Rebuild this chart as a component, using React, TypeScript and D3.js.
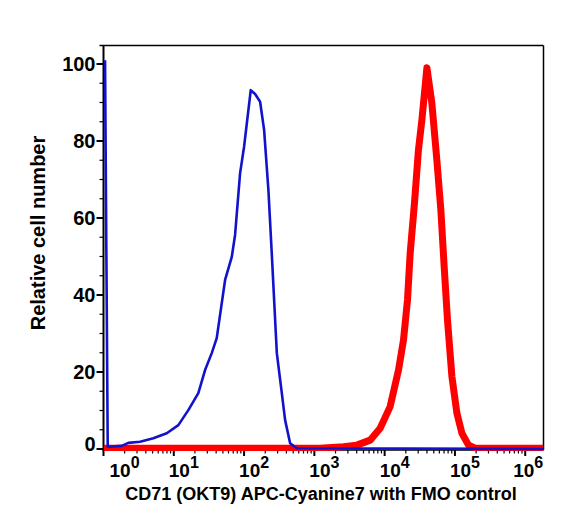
import React from 'react';
import * as d3 from 'd3';

// Histogram channels are stored as decades (log10 of the fluorescence intensity).
// FMO control (blue)
const fmoDecade = [0.022, 0.06, 0.259, 0.353, 0.52, 0.709, 0.9, 1.065, 1.207, 1.349, 1.445, 1.54, 1.611, 1.73, 1.825, 1.872, 1.943, 2.0, 2.095, 2.157, 2.228, 2.285, 2.346, 2.394, 2.466, 2.537, 2.584, 2.655, 2.75, 6.26];
const fmoCount = [101, 0.6, 0.8, 1.6, 1.9, 2.8, 4.1, 6.2, 10.1, 14.5, 20.5, 24.9, 28.8, 43.9, 49.9, 55.6, 71.6, 78.5, 93.2, 92.2, 90.2, 82.9, 67.3, 50.8, 24.9, 14.5, 7.5, 1.5, 0.2, 0];

// CD71 (OKT9) APC-Cyanine7 stained (red)
const cd71Decade = [0, 3.081, 3.413, 3.604, 3.794, 3.936, 4.078, 4.197, 4.268, 4.325, 4.363, 4.424, 4.481, 4.53, 4.601, 4.672, 4.743, 4.8, 4.847, 4.894, 4.957, 5.028, 5.099, 5.193, 5.288, 6.26];
const cd71Count = [0.2, 0.2, 0.6, 1.0, 2.3, 5.4, 11, 20.5, 28.3, 38.7, 50.8, 63.8, 77.7, 85.5, 99, 89.8, 75, 62, 47.3, 33.5, 18.8, 9.3, 4.1, 1.0, 0.2, 0.2];

const yMajorTicks = [0, 20, 40, 60, 80, 100];
const yMinorTicks = [5, 10, 15, 25, 30, 35, 45, 50, 55, 65, 70, 75, 85, 90, 95];
const xDecadeTicks = [0, 1, 2, 3, 4, 5, 6];

const xTitle = 'CD71 (OKT9) APC-Cyanine7 with FMO control';
const yTitle = 'Relative cell number';

const W = 563;
const H = 521;
const left = 103.5;
const right = 543.5;
const top = 45.5;
const bottom = 450;
const FONT = "'Liberation Sans', Arial, Helvetica, sans-serif";

export default function App() {
  const x = d3.scaleLog().domain([1, Math.pow(10, 6.26)]).range([left, right]);
  const y = d3.scaleLinear().domain([0, 100]).range([449, 64]);

  const line = d3
    .line<[number, number]>()
    .x((d) => x(Math.pow(10, d[0])))
    .y((d) => y(d[1]));

  const fmoPts = fmoDecade.map((d, i) => [d, fmoCount[i]] as [number, number]);
  const cd71Pts = cd71Decade.map((d, i) => [d, cd71Count[i]] as [number, number]);

  const minorX: number[] = [];
  for (let e = 0; e < 7; e++) {
    for (let m = 2; m <= 9; m++) {
      const v = m * Math.pow(10, e);
      if (v < Math.pow(10, 6.26)) minorX.push(v);
    }
  }

  return (
    <svg width={W} height={H} style={{ position: 'absolute', left: 0, top: 0, background: '#fff' }}>
      <defs>
        <clipPath id="plot-area">
          <rect x={left} y={top} width={right - left} height={bottom - top + 1} />
        </clipPath>
      </defs>
      <rect x={0} y={0} width={W} height={H} fill="#fff" />

      {/* frame */}
      <line x1={left - 4} x2={right} y1={top} y2={top} stroke="#000" strokeWidth={1.5} />
      <line x1={right} x2={right} y1={top} y2={bottom} stroke="#000" strokeWidth={1.5} />
      <line x1={left} x2={left} y1={top} y2={bottom + 1} stroke="#000" strokeWidth={2} />
      <line x1={left} x2={right} y1={bottom} y2={bottom} stroke="#000" strokeWidth={1.5} />

      {/* y ticks */}
      {yMajorTicks.map((t) => (
        <line key={'ym' + t} x1={left - 7} x2={left} y1={y(t)} y2={y(t)} stroke="#000" strokeWidth={2} />
      ))}
      {yMinorTicks.map((t) => (
        <line key={'yn' + t} x1={left - 4} x2={left} y1={y(t)} y2={y(t)} stroke="#000" strokeWidth={1.2} />
      ))}
      {yMajorTicks.map((t) => (
        <text
          key={'yl' + t}
          x={left - 8}
          y={y(t) + (t === 0 ? -5 : 0)}
          dy="0.36em"
          textAnchor="end"
          fontFamily={FONT}
          fontWeight="bold"
          fontSize={20}
        >
          {t}
        </text>
      ))}

      {/* x ticks */}
      {xDecadeTicks.map((e) => (
        <line key={'xm' + e} x1={x(Math.pow(10, e))} x2={x(Math.pow(10, e))} y1={bottom} y2={bottom + 6} stroke="#000" strokeWidth={2} />
      ))}
      {minorX.map((v) => (
        <line key={'xn' + v} x1={x(v)} x2={x(v)} y1={bottom} y2={bottom + 3.5} stroke="#000" strokeWidth={1.2} />
      ))}
      {xDecadeTicks.map((e) => {
        const tx = x(Math.pow(10, e));
        const off = e === 0 ? 6 : e === 6 ? -12 : -5;
        return (
          <text key={'xl' + e} x={tx + off} y={477} fontFamily={FONT} fontWeight="bold" fontSize={19}>
            10
            <tspan dy={-9} fontSize={16}>
              {e}
            </tspan>
          </text>
        );
      })}

      {/* histograms */}
      <g clipPath="url(#plot-area)">
        <path d={line(cd71Pts) || ''} fill="none" stroke="#ff0000" strokeWidth={7} strokeLinejoin="round" />
        <path d={line(fmoPts) || ''} fill="none" stroke="#1212cc" strokeWidth={2.6} strokeLinejoin="round" />
      </g>

      {/* axis titles */}
      <text x={321} y={500} textAnchor="middle" fontFamily={FONT} fontWeight="bold" fontSize={18}>
        {xTitle}
      </text>
      <text
        transform="translate(45, 233) rotate(-90)"
        textAnchor="middle"
        fontFamily={FONT}
        fontWeight="bold"
        fontSize={20}
      >
        {yTitle}
      </text>
    </svg>
  );
}
